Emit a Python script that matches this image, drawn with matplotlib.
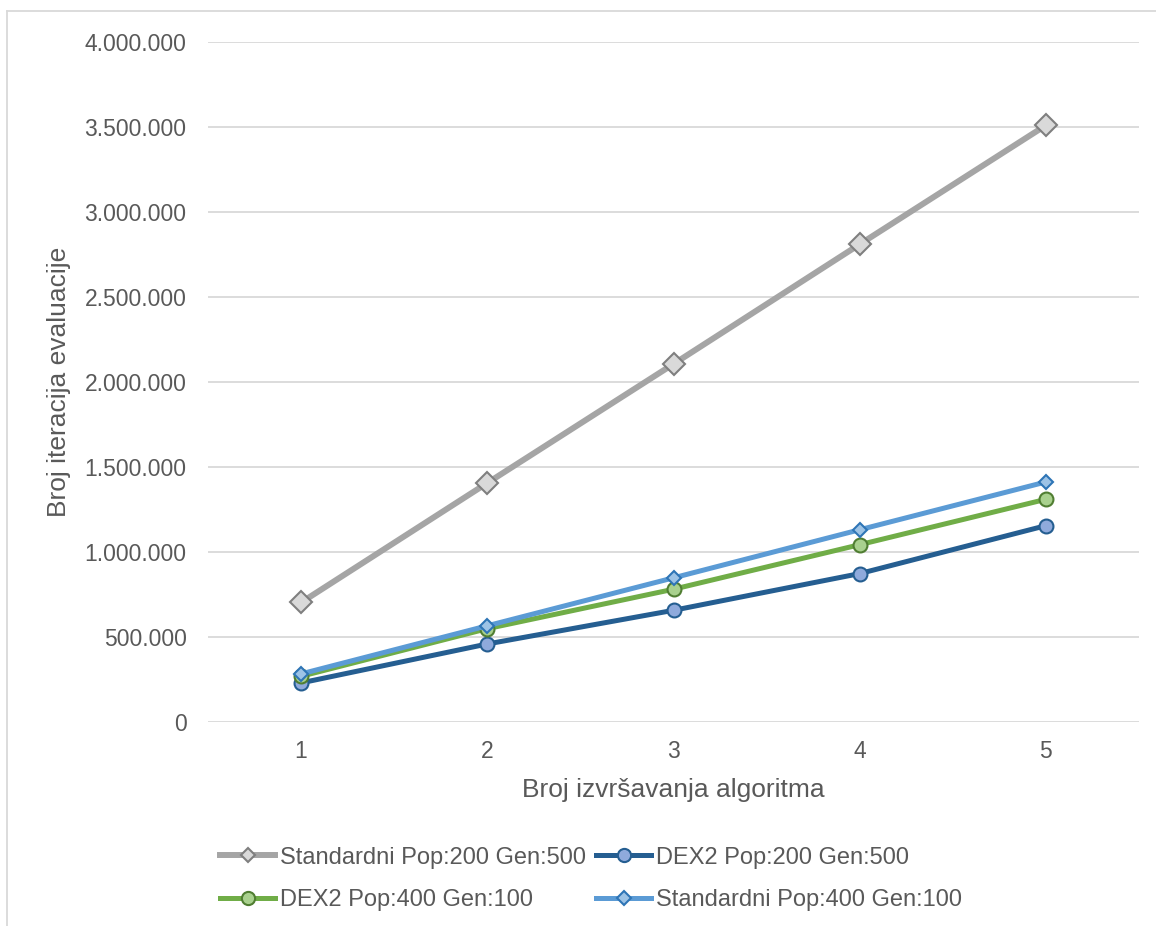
import matplotlib
matplotlib.use("Agg")
import matplotlib.pyplot as plt
from matplotlib.lines import Line2D
from matplotlib.ticker import FuncFormatter

plt.rcParams['font.family'] = ['Liberation Sans', 'DejaVu Sans']

runs = [1, 2, 3, 4, 5]
std_200_500 = [703000, 1406000, 2106000, 2810000, 3510000]
dex2_200_500 = [230000, 459000, 657000, 873000, 1155000]
dex2_400_100 = [269000, 549000, 781000, 1043000, 1310000]
std_400_100 = [283000, 566000, 848000, 1131000, 1412000]

labels = ["Standardni Pop:200 Gen:500", "DEX2 Pop:200 Gen:500",
          "DEX2 Pop:400 Gen:100", "Standardni Pop:400 Gen:100"]
yticks = [0, 500000, 1000000, 1500000, 2000000, 2500000, 3000000, 3500000, 4000000]

W, H = 1156, 926
fig = plt.figure(figsize=(W / 100, H / 100), dpi=100)
ax = fig.add_axes([208 / W, 1 - 722 / H, (1139 - 208) / W, (722 - 42) / H])

txt = '#595959'
styles = [
    dict(color='#A5A5A5', lw=4.3, marker='D', ms=11, mfc='#D9D9D9', mec='#7F7F7F', mew=1.5),
    dict(color='#255E91', lw=3.6, marker='o', ms=10, mfc='#8FAADC', mec='#255E91', mew=1.5),
    dict(color='#70AD47', lw=3.6, marker='o', ms=10, mfc='#A9D18E', mec='#507E32', mew=1.5),
    dict(color='#5B9BD5', lw=3.6, marker='D', ms=7, mfc='#9DC3E6', mec='#2E75B6', mew=1.5),
]
leg_ms = [7, 9.5, 9.5, 7]
series = [std_200_500, dex2_200_500, dex2_400_100, std_400_100]
handles = []
for s, st, lab, lm in zip(series, styles, labels, leg_ms):
    ax.plot(runs, s, solid_capstyle='round', zorder=3, **st)
    hst = dict(st)
    hst['ms'] = lm
    handles.append(Line2D([0], [0], **hst, label=lab))

ax.set_xlim(0.5, 5.5)
ax.set_ylim(0, 4000000)
ax.set_xticks(runs)
ax.set_yticks(yticks)
ax.yaxis.set_major_formatter(FuncFormatter(lambda v, p: f"{int(v):,}".replace(',', '.')))
ax.grid(axis='y', color='#D9D9D9', lw=1.3, zorder=0)
for sp in ax.spines.values():
    sp.set_visible(False)
ax.tick_params(length=0, labelsize=16.5, colors=txt)
ax.tick_params(axis='y', pad=15.5)
ax.tick_params(axis='x', pad=13)
ax.set_xlabel("Broj izvršavanja algoritma", fontsize=19, color=txt, labelpad=11)
ax.set_ylabel("Broj iteracija evaluacije", fontsize=19, color=txt, labelpad=10)

order = [0, 2, 1, 3]
leg = fig.legend(handles=[handles[i] for i in order], ncol=2, loc='center',
                 bbox_to_anchor=(591 / W, 1 - 879 / H),
                 frameon=False, fontsize=17, labelcolor=txt, handlelength=2.35,
                 handletextpad=0.2, columnspacing=0.42, labelspacing=0.88)

# chart-area frame (left and top)
fig.add_artist(Line2D([7 / W, 7 / W], [0, 1 - 11 / H], color='#D9D9D9', lw=1.3))
fig.add_artist(Line2D([7 / W, 1], [1 - 11 / H, 1 - 11 / H], color='#D9D9D9', lw=1.3))

fig.savefig("out.png", dpi=100)
